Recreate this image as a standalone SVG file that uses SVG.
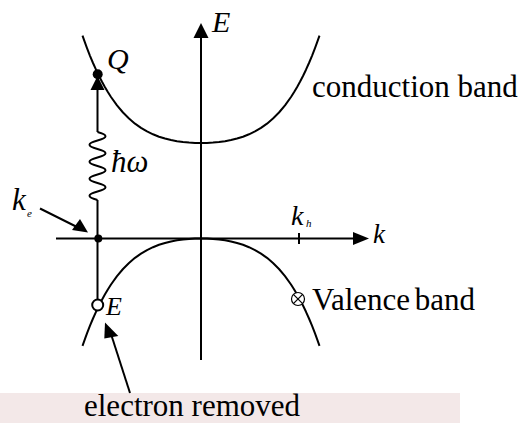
<svg xmlns="http://www.w3.org/2000/svg" width="523" height="423" viewBox="0 0 523 423">
  <style>
    .ln{fill:none;stroke:#000;stroke-width:2;stroke-linejoin:round}
    .ah{fill:#000;stroke:none}
    text{font-family:'Liberation Serif','Times New Roman',serif;fill:#000}
    .i{font-style:italic}
  </style>
  <rect x="0" y="0" width="523" height="423" fill="#fff"/>
  <rect id="band" x="0" y="393" width="460" height="30" fill="#f3e8e8"/>

  <g id="axes">
    <line class="ln" x1="201" y1="360" x2="201" y2="36"/>
    <polygon class="ah" points="201,23 193.5,38 208.5,38"/>
    <line class="ln" x1="56" y1="238.5" x2="356" y2="238.5"/>
    <polygon class="ah" points="369,238.5 353,232 353,245"/>
    <line class="ln" x1="299" y1="233" x2="299" y2="244"/>
    <text class="i" x="212" y="32" font-size="30">E</text>
    <text class="i" x="373" y="243" font-size="27">k</text>
    <text class="i" x="291" y="225" font-size="28">k</text>
    <text class="i" x="306" y="227" font-size="11">h</text>
  </g>

  <g id="conduction-band">
    <path class="ln" d="M82.5,35.6 L85,42.7 87,48.1 90,55.8 93,63 96,69.7 99,75.95 102,81.8 105,87.2 108,92.3 111,97 117,105.35 123,112.5 129,118.55 135,123.65 141,127.9 147,131.45 153,134.3 159,136.7 165,138.55 171,140.05 177,141.15 183,142 189,142.55 195,142.9 201,143 207,142.9 213,142.55 219,142 225,141.15 231,140.05 237,138.55 243,136.7 249,134.3 255,131.45 261,127.9 267,123.65 273,118.55 279,112.5 285,105.35 291,97 294,92.3 297,87.2 300,81.8 303,75.95 306,69.7 309,63 312,55.8 315,48.1 317,42.7 319.5,35.6"/>
    <text x="312" y="97" font-size="31">conduction band</text>
  </g>

  <g id="valence-band">
    <path class="ln" d="M82.5,345.9 L85,338.8 87,333.4 90,325.7 93,318.5 96,311.8 99,305.55 102,299.7 105,294.3 108,289.2 111,284.5 117,276.15 123,269 129,262.95 135,257.85 141,253.6 147,250.05 153,247.2 159,244.8 165,242.95 171,241.45 177,240.35 183,239.5 189,238.95 195,238.6 201,238.5 207,238.6 213,238.95 219,239.5 225,240.35 231,241.45 237,242.95 243,244.8 249,247.2 255,250.05 261,253.6 267,257.85 273,262.95 279,269 285,276.15 291,284.5 294,289.2 297,294.3 300,299.7 303,305.55 306,311.8 309,318.5 312,325.7 315,333.4 317,338.8 319.5,345.9"/>
  </g>

  <g id="hole">
    <circle cx="298" cy="299" r="6.5" fill="#fff" stroke="#000" stroke-width="1.2"/>
    <line x1="293.4" y1="294.4" x2="302.6" y2="303.6" stroke="#000" stroke-width="1.2"/>
    <line x1="302.6" y1="294.4" x2="293.4" y2="303.6" stroke="#000" stroke-width="1.2"/>
    <text x="312" y="310" font-size="31" word-spacing="-3">Valence band</text>
  </g>

  <g id="connectors">
    <path class="ln" d="M97.5,299 L97.5,200 M97.5,132 L97.5,88"/>
    <path class="ln" d="M97.5,132 q16,4.25 0,8.5 t0,8.5 t0,8.5 t0,8.5 t0,8.5 t0,8.5 t0,8.5 t0,8.5"/>
    <polygon class="ah" points="97.5,76 90.5,90 104.5,90"/>
    <line class="ln" x1="40" y1="208.5" x2="78" y2="227.5"/>
    <polygon class="ah" points="88,232.5 72,230 80,219"/>
    <line class="ln" x1="130" y1="393" x2="111" y2="334"/>
    <polygon class="ah" points="105,322.5 104.3,338.5 118.3,336"/>
  </g>

  <g id="Q">
    <circle cx="97.7" cy="74.3" r="5" fill="#000"/>
    <text class="i" x="107" y="69" font-size="30">Q</text>
  </g>
  <g id="photon">
    <text class="i" x="111" y="172" font-size="31">ħω</text>
  </g>
  <g id="ke">
    <circle cx="98.3" cy="238.5" r="4" fill="#000"/>
    <text class="i" x="12" y="210" font-size="31">k</text>
    <text class="i" x="27" y="217" font-size="11">e</text>
  </g>
  <g id="E-removed">
    <circle cx="97.7" cy="305" r="5.5" fill="#fff" stroke="#000" stroke-width="2"/>
    <text class="i" x="106" y="315" font-size="26">E</text>
  </g>
  <g id="caption">
    <text x="84" y="416" font-size="31">electron removed</text>
  </g>
</svg>
